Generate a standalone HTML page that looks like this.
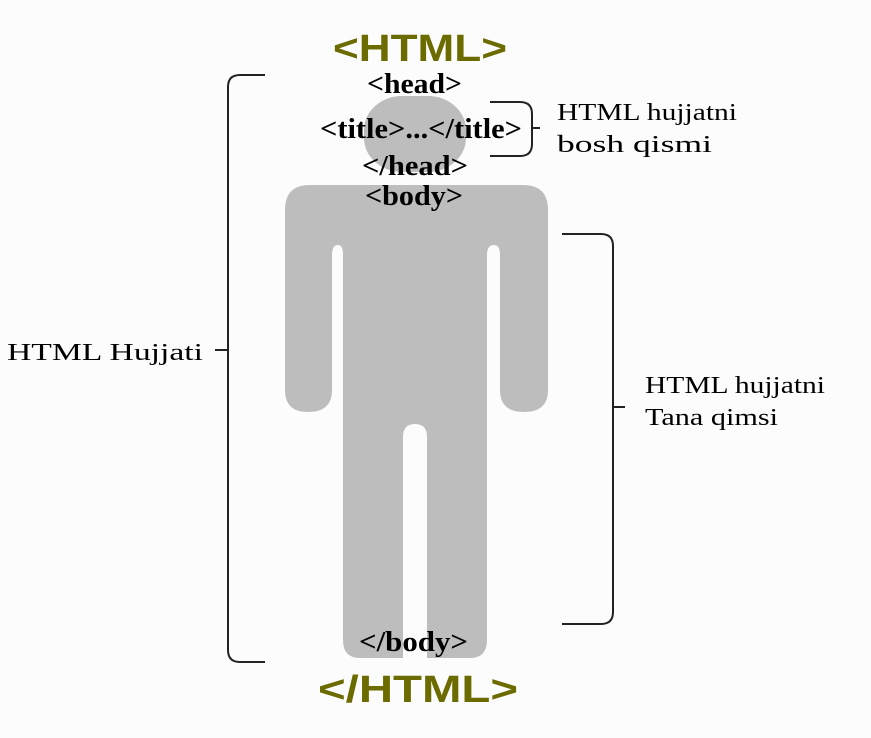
<!DOCTYPE html>
<html><head><meta charset="utf-8"><style>
html,body{margin:0;padding:0;background:#fcfcfc;}
svg{display:block}
.s{font-family:"Liberation Serif",serif;fill:#000}
.b{font-weight:bold;font-size:28px}
.r{font-size:24px}
.h{font-family:"Liberation Sans",sans-serif;font-weight:bold;font-size:38px;fill:#6b6b00}
</style></head><body>
<svg width="871" height="738" viewBox="0 0 871 738" xmlns="http://www.w3.org/2000/svg">
<rect width="871" height="738" fill="#fcfcfc"/>
<g fill="#bdbdbd">
<rect x="364" y="96" width="102" height="76" rx="38" ry="34"/>
<path d="M310 185 H523 Q548 185 548 210 V390 Q548 412 524 412 Q500 412 500 390 V255 Q500 245 494 245 Q487 245 487 255 V640 Q487 658 470 658 H360 Q343 658 343 640 V255 Q343 245 338 245 Q332 245 332 255 V390 Q332 412 308 412 Q285 412 285 390 V210 Q285 185 310 185Z"/>
</g>
<path d="M403 660 V437 Q403 424 415 424 Q427 424 427 437 V660Z" fill="#fcfcfc"/>
<g fill="none" stroke="#222" stroke-width="2">
<path d="M265 75 H240 Q228 75 228 87 V650 Q228 662 240 662 H265"/>
<path d="M215 350 H228"/>
<path d="M490 102 H520 Q532 102 532 114 V144 Q532 156 520 156 H490"/>
<path d="M532 128 H540"/>
<path d="M562 234 H601 Q613 234 613 246 V612 Q613 624 601 624 H562"/>
<path d="M613 407 H625"/>
</g>
<text class="h" x="333" y="61" textLength="174" lengthAdjust="spacingAndGlyphs">&lt;HTML&gt;</text>
<text class="h" x="318" y="702" textLength="200" lengthAdjust="spacingAndGlyphs">&lt;/HTML&gt;</text>
<text class="s b" x="367" y="93" textLength="95" lengthAdjust="spacingAndGlyphs">&lt;head&gt;</text>
<text class="s b" x="320" y="138" textLength="202" lengthAdjust="spacingAndGlyphs">&lt;title&gt;...&lt;/title&gt;</text>
<text class="s b" x="362" y="175" textLength="106" lengthAdjust="spacingAndGlyphs">&lt;/head&gt;</text>
<text class="s b" x="365" y="205" textLength="98" lengthAdjust="spacingAndGlyphs">&lt;body&gt;</text>
<text class="s b" x="359" y="651" textLength="109" lengthAdjust="spacingAndGlyphs">&lt;/body&gt;</text>
<text class="s r" x="7" y="360" textLength="196" lengthAdjust="spacingAndGlyphs">HTML Hujjati</text>
<text class="s r" x="557" y="120" textLength="180" lengthAdjust="spacingAndGlyphs">HTML hujjatni</text>
<text class="s r" x="557" y="152" textLength="155" lengthAdjust="spacingAndGlyphs">bosh qismi</text>
<text class="s r" x="645" y="393" textLength="180" lengthAdjust="spacingAndGlyphs">HTML hujjatni</text>
<text class="s r" x="645" y="425" textLength="133" lengthAdjust="spacingAndGlyphs">Tana qimsi</text>
</svg>
</body></html>
